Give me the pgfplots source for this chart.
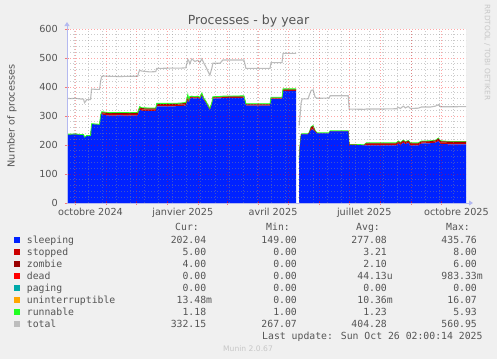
\documentclass[border=0pt]{standalone}
\usepackage{pgfplots}
\usepackage{pgfplotstable}
\pgfplotsset{compat=1.18}
\usepackage{fontspec}
\setmainfont{DejaVu Sans}
\newfontfamily\monofont{DejaVu Sans Mono}
\usetikzlibrary{arrows.meta}

\definecolor{bgcol}{HTML}{F0F0F0}
\definecolor{textgray}{HTML}{555555}
\definecolor{csleep}{HTML}{0022FF}
\definecolor{cstop}{HTML}{CC0000}
\definecolor{czombie}{HTML}{990000}
\definecolor{cdead}{HTML}{FF0000}
\definecolor{cpaging}{HTML}{00AAAA}
\definecolor{cunint}{HTML}{FFA500}
\definecolor{crun}{HTML}{22FF22}
\definecolor{ctotal}{HTML}{BDBDBD}
\definecolor{caxis}{HTML}{B4B9F0}

% first block of data (before the gap)
\pgfplotstableread{
d sleeping stopped zombie dead paging unint runnable total
-9 236 0 0 0 0 0 1.5 361
-5 236 0 0 0 0 0 1.5 360
0 237 0 0 0 0 0 1.5 361
4 235 0 0 0 0 0 1.5 359
8 235 0 0 0 0 0 1.5 358
9 226 0 0 0 0 0 1.5 346
10 228 0 0 0 0 0 1.5 350
11 231 0 0 0 0 0 1.5 356
15 231 0 0 0 0 0 1.5 357
16 272 0 0 0 0 0 1.5 393
20 271 0 0 0 0 0 1.5 392
24 270 0 0 0 0 0 1.5 392
25 300 1 0 0 0 0 1.5 420
26 308 3 2 0 0 0 1.5 435
27 304 5 4 0 0 0 1.5 438
34 301 5 4 0 0 0 1.5 437
44 302 5 4 0 0 0 1.5 436
54 301 5 4 0 0 0 1.5 437
62 302 5 4 0 0 0 1.5 437
63 312 5 4 0 0 0 1.5 450
64 322 5 4 0 0 0 1.5 458
66 318 5 4 0 0 0 1.5 455
74 317 5 4 0 0 0 1.5 452
80 317 5 4 0 0 0 1.5 453
81 333 5 4 0 0 0 1.5 464
94 333 5 4 0 0 0 1.5 465
104 334 5 4 0 0 0 1.5 465
110 336 5 4 0 0 0 1.5 466
112 355 8 6 0 0 0 5 495
113 345 6 4 0 0 0 2 490
114 358 4 3 0 0 0 2 480
116 362 3 2 0 0 0 1.5 497
119 360 3 2 0 0 0 1.5 488
122 362 3 2 0 0 0 1.5 492
124 358 3 2 0 0 0 1.5 485
126 370 4 3 0 0 0 2 497
128 355 3 2 0 0 0 1.5 482
130 345 3 2 0 0 0 1.5 470
132 332 3 2 0 0 0 1.5 455
134 320 3 2 0 0 0 1.5 441
136 340 3 2 0 0 0 1.5 465
137 360 3 2 0 0 0 1.5 482
144 361 3 2 0 0 0 1.5 482
147 362 3 2 0 0 0 1.5 493
168 363 3 2 0 0 0 1.5 493
170 336 3 2 0 0 0 1.5 464
194 336 3 2 0 0 0 1.5 464
195 358 3 2 0 0 0 1.5 484
206 358 3 2 0 0 0 1.5 484
207 387 3 2 0 0 0 1.5 516
220 387 3 2 0 0 0 1.5 516
}\segA

% second block of data (after the gap)
\pgfplotstableread{
d sleeping stopped zombie dead paging unint runnable total
223 149 0 0 0 0 0 1 267
224 200 0 0 0 0 0 1 300
225 235 0 0 0 0 0 1.5 345
226 237 0.5 0 0 0 0 1.5 359
232 237 0.5 0 0 0 0 1.5 359
233 240 1 0 0 0 0 1.5 370
235 252 5 4 0 0 0 2 388
237 254 6 5 0 0 0 2 390
239 245 2 1 0 0 0 1.5 365
241 240 0.5 0 0 0 0 1.5 361
253 240 0.5 0 0 0 0 1.5 362
254 247 0.5 0 0 0 0 1.5 370
272 247 0.5 0 0 0 0 1.5 370
273 200 0.5 0 0 0 0 1.5 324
288 199 0.5 0 0 0 0 1.5 323
290 199 4 3 0 0 0 1.5 324
304 199 4 3 0 0 0 1.5 324
320 199 4 3 0 0 0 1.5 325
322 205 4 3 0 0 0 2 330
324 200 4 3 0 0 0 1.5 326
327 208 4 3 0 0 0 2 334
329 203 4 3 0 0 0 1.5 328
332 207 4 3 0 0 0 1.5 333
334 199 4 3 0 0 0 1.5 326
342 199 4 3 0 0 0 1.5 327
345 205 4 3 0 0 0 1.5 331
354 206 4 3 0 0 0 1.5 331
359 208 4 3 0 0 0 1.5 334
362 213 5 4 0 0 0 2 339
364 204 5 4 0 0 0 1.5 332
374 202 5 4 0 0 0 1.2 332
390 202.04 5 4 0 0 0.0135 1.18 332.15
}\segB

\pgfplotsset{
  basegeom/.style={
    at={(67bp,156bp)}, anchor=south west,
    scale only axis, width=399bp, height=174bp,
    xmin=-8.5, xmax=389.5, ymin=0, ymax=600},
  stackA/.style={stack plots=y},
}
\newcommand\stacklayers[1]{%
\addplot[fill=csleep, draw=none] table[x=d, y=sleeping] {#1} \closedcycle;
\addplot[fill=cstop, draw=none] table[x=d, y=stopped] {#1} \closedcycle;
\addplot[fill=czombie, draw=none] table[x=d, y=zombie] {#1} \closedcycle;
\addplot[fill=cdead, draw=none] table[x=d, y=dead] {#1} \closedcycle;
\addplot[fill=cpaging, draw=none] table[x=d, y=paging] {#1} \closedcycle;
\addplot[fill=cunint, draw=none] table[x=d, y=unint] {#1} \closedcycle;
\addplot[fill=crun, draw=none] table[x=d, y=runnable] {#1} \closedcycle;
}

\begin{document}
\begin{tikzpicture}
\fill[bgcol] (0,0) rectangle (497bp,359bp);
\useasboundingbox (0,0) rectangle (497bp,359bp);

% layer 1: white canvas and the stacked areas before the gap
\begin{axis}[basegeom, axis lines=none, ticks=none,
  axis background/.style={fill=white}, stack plots=y]
\stacklayers{\segA}
\end{axis}

% layer 2: stacked areas after the gap, top edge and total lines
\begin{axis}[basegeom, hide axis, stack plots=y]
\stacklayers{\segB}
\addplot[stack plots=false, draw=crun, line width=0.8bp]
  table[x=d, y expr=\thisrow{sleeping}+\thisrow{stopped}+\thisrow{zombie}+\thisrow{dead}+\thisrow{paging}+\thisrow{unint}+\thisrow{runnable}] {\segA};
\addplot[stack plots=false, draw=crun, line width=0.8bp]
  table[x=d, y expr=\thisrow{sleeping}+\thisrow{stopped}+\thisrow{zombie}+\thisrow{dead}+\thisrow{paging}+\thisrow{unint}+\thisrow{runnable}] {\segB};
\addplot[stack plots=false, draw=ctotal, line width=1.1bp] table[x=d, y=total] {\segA};
\addplot[stack plots=false, draw=ctotal, line width=1.1bp] table[x=d, y=total] {\segB};
\end{axis}

% layer 3: grid, axes, ticks, labels, title on top
\begin{axis}[basegeom,
  axis x line=bottom, axis y line=left,
  axis line style={draw=caxis, line width=0.8bp, -{Triangle[width=5bp,length=4bp]}, shorten >=-7bp},
  xtick={0,31,61,92,123,151,182,212,243,273,304,335,365},
  xticklabels={},
  minor xtick={-1,13,27,41,55,69,83,97,111,125,139,153,167,181,195,209,223,237,251,265,279,293,307,321,335,349,363,377},
  extra x ticks={15,107,197,288,380},
  extra x tick labels={octobre 2024,janvier 2025,avril 2025,juillet 2025,octobre 2025},
  extra x tick style={grid=none, major tick length=0pt},
  ytick={0,100,...,600},
  minor y tick num=4,
  grid=both,
  major grid style={draw=red, draw opacity=0.35, dash pattern=on 1bp off 2bp, line width=0.7bp},
  minor grid style={draw=black!45, draw opacity=0.45, dash pattern=on 1bp off 2bp, line width=0.7bp},
  tick align=center,
  major tick length=4bp, minor tick length=0bp,
  major tick style={draw=red, draw opacity=0.5, line width=0.7bp},
  /pgf/number format/assume math mode=true,
  tick label style={font=\fontsize{9.7bp}{11bp}\selectfont, text=textgray},
  xticklabel style={anchor=base, yshift=-13bp, inner sep=0pt},
  yticklabel style={anchor=east, inner sep=0pt, xshift=-7bp},
  every axis y label/.style={at={(axis description cs:-0.1378,0.5)}, rotate=90, anchor=center, font=\fontsize{9.7bp}{11bp}\selectfont, text=textgray},
  ylabel={Number of processes},
  every axis title/.style={at={(axis description cs:0.4549,1.0287)}, anchor=base, font=\fontsize{12.5bp}{14bp}\selectfont, text=textgray},
  title={Processes - by year},
]
\end{axis}

\node[rotate=-90, anchor=center, text=black!22, font=\fontsize{7.4bp}{8bp}\selectfont] at (487.3bp,306.5bp) {RRDTOOL / TOBI OETIKER};

\begin{scope}[every node/.style={inner sep=0pt, text=textgray, font=\monofont\fontsize{9.8bp}{12bp}\selectfont}]
\node[anchor=base east] at (199bp,128bp) {Cur:};
\node[anchor=base east] at (290bp,128bp) {Min:};
\node[anchor=base east] at (380bp,128bp) {Avg:};
\node[anchor=base east] at (470bp,128bp) {Max:};
\newcommand\lrow[7]{%
  \node[anchor=base west] at (14bp,#1) {\textcolor{#2}{\rule{6bp}{6bp}}\hspace{6.7bp}\makebox[179.3bp][l]{#3\hfill #4}\makebox[90.7bp][r]{#5}\makebox[90bp][r]{#6}\makebox[90bp][r]{#7}};}
\lrow{115.7bp}{csleep}{sleeping}{202.04}{149.00}{277.08}{435.76}
\lrow{103.7bp}{cstop}{stopped}{5.00}{0.00}{3.21}{8.00}
\lrow{91.7bp}{czombie}{zombie}{4.00}{0.00}{2.10}{6.00}
\lrow{79.7bp}{cdead}{dead}{0.00}{0.00}{44.13\rlap{u}}{983.33\rlap{m}}
\lrow{67.7bp}{cpaging}{paging}{0.00}{0.00}{0.00}{0.00}
\lrow{55.7bp}{cunint}{uninterruptible}{13.48\rlap{m}}{0.00}{10.36\rlap{m}}{16.07}
\lrow{43.7bp}{crun}{runnable}{1.18}{1.00}{1.23}{5.93}
\lrow{31.7bp}{ctotal}{total}{332.15}{267.07}{404.28}{560.95}
\node[anchor=base east] at (482.7bp,19.7bp) {Last update: Sun Oct 26 02:00:14 2025};
\end{scope}
\node[anchor=base, inner sep=0pt, text=black!22, font=\fontsize{7.6bp}{8bp}\selectfont] at (248bp,8bp) {Munin 2.0.67};
\end{tikzpicture}
\end{document}
